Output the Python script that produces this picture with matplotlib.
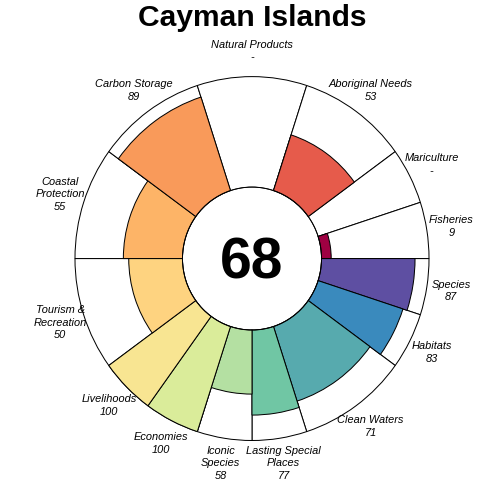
import numpy as np
import matplotlib
matplotlib.use("Agg")
import matplotlib.pyplot as plt

# goals clockwise from east (3 o'clock)
goals = ["Species", "Habitats", "Clean Waters", "Lasting Special\nPlaces",
         "Iconic\nSpecies", "Economies", "Livelihoods", "Tourism &\nRecreation",
         "Coastal\nProtection", "Carbon Storage", "Natural Products",
         "Aboriginal Needs", "Mariculture", "Fisheries"]
scores = [87, 83, 71, 77, 58, 100, 100, 50, 55, 89, np.nan, 53, np.nan, 9]
weights = [0.5, 0.5, 1, 0.5, 0.5, 0.5, 0.5, 1, 1, 1, 1, 1, 0.5, 0.5]
colors = ["#5E4FA2", "#3A8ABD", "#57AAAE", "#70C6A4", "#B4E0A2", "#DAEC9A",
          "#F8E592", "#FED380", "#FDB467", "#F99A5A", "#F7814C", "#E65B4B",
          "#EE7A4C", "#9E0142"]
overall = 68
region = "Cayman Islands"

plt.rcParams["font.family"] = ["Liberation Sans", "DejaVu Sans"]

fig = plt.figure(figsize=(7, 7), dpi=72)
ax = fig.add_axes([0.1488, 0.126, 0.7024, 0.722], projection="polar")
ax.set_aspect("auto")
ax.set_theta_zero_location("E")
ax.set_theta_direction(-1)

w = np.array(weights) * 2 * np.pi / 10
left = np.concatenate([[0], np.cumsum(w)[:-1]])
mid = left + w / 2

# white full-length petals
ax.bar(mid, [100] * len(goals), width=w, bottom=0, color="white",
       edgecolor="black", linewidth=1.0, zorder=1, clip_on=False)
# coloured petals with scores
for m, wi, s, c in zip(mid, w, scores, colors):
    if np.isnan(s):
        continue
    ax.bar(m, s, width=wi, bottom=0, color=c, edgecolor="black",
           linewidth=1.0, zorder=2, clip_on=False)

ax.set_ylim(0, 100)
ax.set_rorigin(-64.7)
ax.grid(False)
ax.set_xticks([])
ax.set_yticks([])
for sp in ax.spines.values():
    sp.set_visible(False)
ax.patch.set_alpha(0)

for m, g, s in zip(mid, goals, scores):
    txt = g + "\n" + ("-" if np.isnan(s) else "%d" % s)
    ax.text(m, 123, txt, ha="center", va="center", fontsize=11,
            style="italic", multialignment="center", linespacing=1.35)

ax.text(0.5, 0.5 - 5 / 364, str(overall), transform=ax.transAxes,
        ha="center", va="center", fontsize=57, fontweight="bold")

fig.text(0.5, 1 - 26 / 504, region, ha="center", va="baseline",
         fontsize=30, fontweight="bold")

fig.savefig("out.png", dpi=72)
